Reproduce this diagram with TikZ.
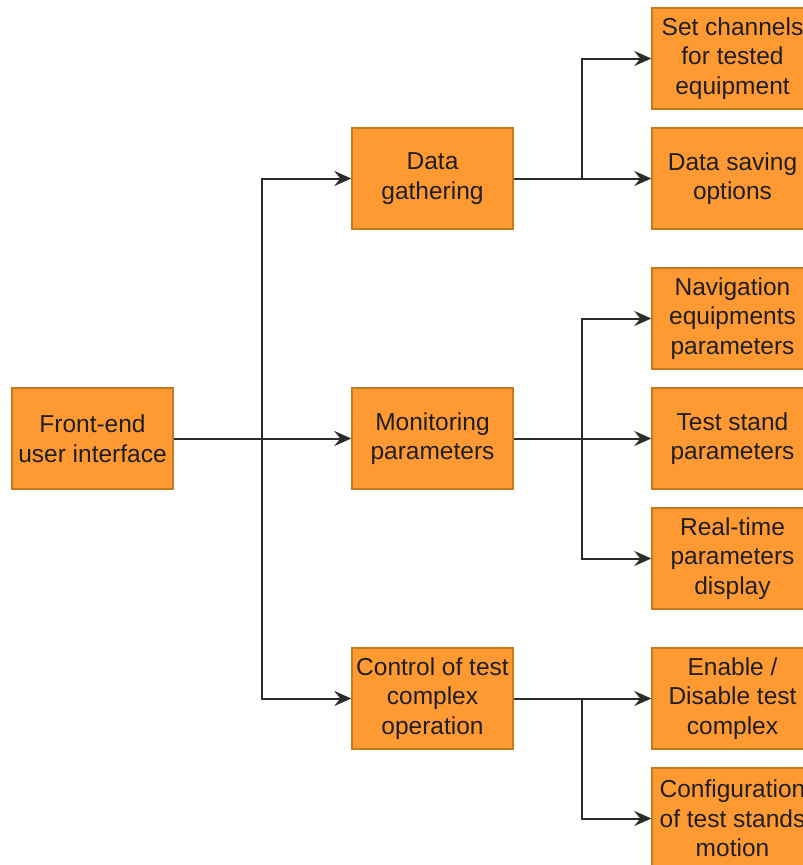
\documentclass[tikz,border=0pt]{standalone}
\usepackage{fontspec}
\setmainfont{Liberation Sans}
\usetikzlibrary{arrows.meta}
\definecolor{boxfill}{HTML}{FF9A33}
\definecolor{boxline}{HTML}{C47A1E}
\definecolor{linkcol}{HTML}{2B2B2B}
\begin{document}
\begin{tikzpicture}[x=1pt,y=-1pt,
  blk/.style={draw=boxline, line width=1.4pt, fill=boxfill, minimum width=161pt,
    minimum height=101pt, inner sep=0pt, align=center,
    font=\fontsize{24.5}{29.5}\selectfont, text=black!88},
  link/.style={draw=linkcol, line width=2pt},
  arr/.style={link, -{Stealth[length=17pt,width=15pt,inset=6pt]}}]
\useasboundingbox (0,0) rectangle (803,865);
% first level
\node[blk] (ui) at (92.5,438.5) {Front-end\\user interface};
% second level
\node[blk] (dg) at (432.5,178.5) {Data\\gathering};
\node[blk] (mp) at (432.5,438.5) {Monitoring\\parameters};
\node[blk] (ct) at (432.5,698.5) {Control of test\\complex\\operation};
% third level
\node[blk] (sc) at (732.5,58.5) {Set channels\\for tested\\equipment};
\node[blk] (ds) at (732.5,178.5) {Data saving\\options};
\node[blk] (ne) at (732.5,318.5) {Navigation\\equipments\\parameters};
\node[blk] (ts) at (732.5,438.5) {Test stand\\parameters};
\node[blk] (rt) at (732.5,558.5) {Real-time\\parameters\\display};
\node[blk] (ed) at (732.5,698.5) {Enable /\\Disable test\\complex};
\node[blk] (cf) at (732.5,818.5) {Configuration\\of test stands\\motion};
% junction points of the trees
\coordinate (j0) at (262,438.5);
\coordinate (j1) at (582,178.5);
\coordinate (j2) at (582,438.5);
\coordinate (j3) at (582,698.5);
% connectors
\draw[arr] (ui.east) -- (mp.west);
\draw[arr] (j0) |- (dg.west);
\draw[arr] (j0) |- (ct.west);
\draw[arr] (dg.east) -- (ds.west);
\draw[arr] (j1) |- (sc.west);
\draw[arr] (mp.east) -- (ts.west);
\draw[arr] (j2) |- (ne.west);
\draw[arr] (j2) |- (rt.west);
\draw[arr] (ct.east) -- (ed.west);
\draw[arr] (j3) |- (cf.west);
\end{tikzpicture}
\end{document}
